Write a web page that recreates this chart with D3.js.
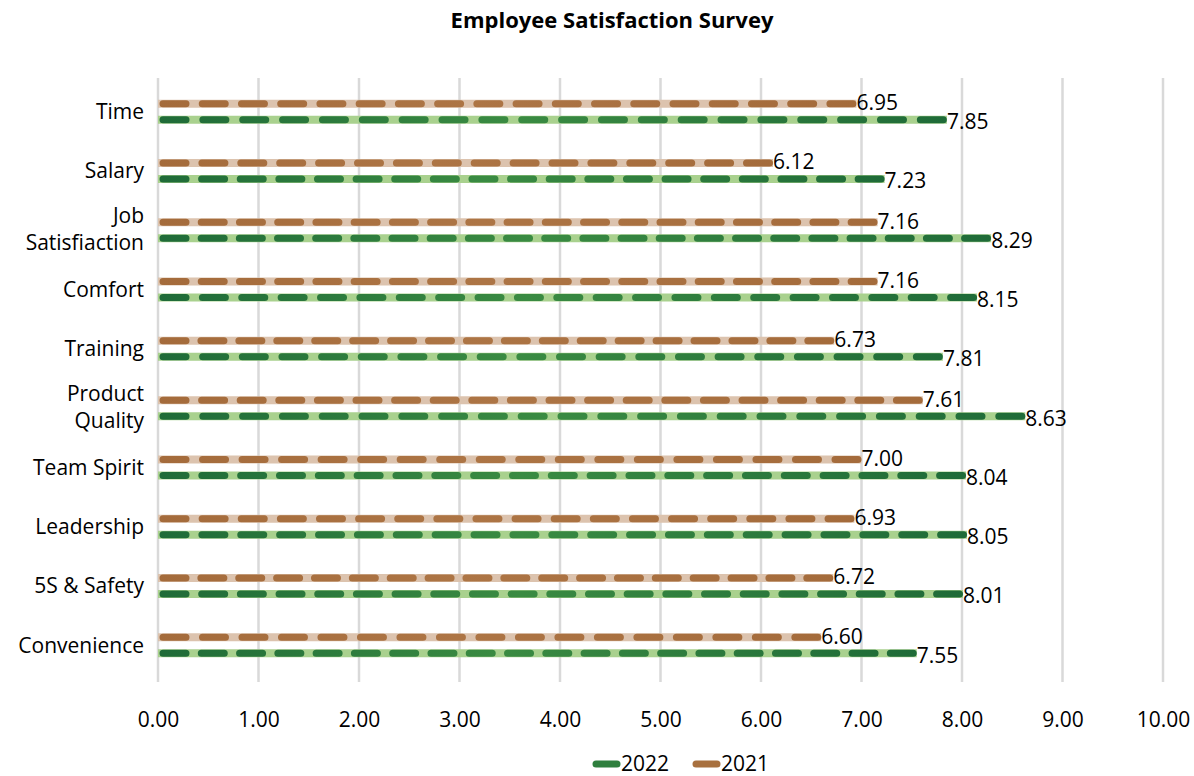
<!DOCTYPE html>
<html>
<head>
<meta charset="utf-8">
<script src="https://cdn.jsdelivr.net/npm/d3@7"></script>
<style>
	body { margin: 0; background: #ffffff; }
	svg text { font-family: 'Open Sans', 'Noto Sans', sans-serif; fill: #000; }
</style>
</head>
<body>
<div id="chart"></div>
<script>
// Survey categories top to bottom, and scores per year
const categories = ['Time', 'Salary', 'Job Satisfiaction', 'Comfort', 'Training',
	'Product Quality', 'Team Spirit', 'Leadership', '5S & Safety', 'Convenience'];
const scores2021 = [6.95, 6.12, 7.16, 7.16, 6.73, 7.61, 7.00, 6.93, 6.72, 6.60];
const scores2022 = [7.85, 7.23, 8.29, 8.15, 7.81, 8.63, 8.04, 8.05, 8.01, 7.55];
const xTicks = [0, 1, 2, 3, 4, 5, 6, 7, 8, 9, 10];
const seriesNames = ['2021', '2022'];

const width = 1194;
const height = 776;
const margin = { top: 82, right: 31, bottom: 101, left: 158 };
const fontSize = '21px';

const svg = d3.select('#chart')
	.append('svg')
	.attr('width', width)
	.attr('height', height);

const x = d3.scaleLinear()
	.domain([0, 10])
	.range([margin.left, width - margin.right]);

const y = d3.scaleBand()
	.domain(categories)
	.range([margin.top, height - margin.bottom]);

// offset of each series inside a category band
const ySeries = d3.scalePoint()
	.domain(seriesNames)
	.range([-8, 8]);

// Title
svg.append('text')
	.attr('x', 612)
	.attr('y', 28)
	.attr('text-anchor', 'middle')
	.style('font-size', '22px')
	.style('font-weight', 'bold')
	.text('Employee Satisfaction Survey');

// Gridlines
svg.append('g')
	.selectAll('line')
	.data(xTicks)
	.join('line')
	.attr('x1', (d) => x(d))
	.attr('x2', (d) => x(d))
	.attr('y1', 78)
	.attr('y2', 682)
	.attr('stroke', '#d9d9d9')
	.attr('stroke-width', 2.5);

// X axis tick labels
const xAxis = svg.append('g')
	.attr('transform', `translate(0, ${height - margin.bottom + 37})`)
	.call(d3.axisBottom(x).tickValues(xTicks).tickFormat(d3.format('.2f')).tickSize(0));
xAxis.select('.domain').remove();
xAxis.selectAll('text')
	.style('font-size', fontSize)
	.attr('dy', '0.71em')
	.attr('y', 0);

// Category labels (wrap two word labels that are long)
const catLabels = svg.append('g')
	.selectAll('text')
	.data(categories)
	.join('text')
	.attr('x', margin.left - 14)
	.attr('y', (d) => y(d) + y.bandwidth() / 2)
	.attr('text-anchor', 'end')
	.style('font-size', fontSize);

catLabels.each(function (d) {
	const el = d3.select(this);
	const words = d.split(' ');
	if (d.length > 12 && words.length === 2) {
		el.append('tspan').attr('x', margin.left - 14).attr('dy', '-0.36em').text(words[0]);
		el.append('tspan').attr('x', margin.left - 14).attr('dy', '1.3em').text(words[1]);
	} else {
		el.append('tspan').attr('dy', '0.35em').text(d);
	}
});

const defs = svg.append('defs');

const seriesStyle = {
	'2021': { values: scores2021, light: '#dcc3ae', dark: ['#a46b3b', '#ad7545', '#a46b3b'] },
	'2022': { values: scores2022, light: '#a9d18e', dark: ['#1f6b38', '#3a8b42', '#1f6b38'] },
};

// fit a whole number of dashes between start and end of a bar
function dashFor(len) {
	const dash = 23;
	const n = Math.max(1, Math.round((len + 16) / 39));
	const gap = n > 1 ? (len - n * dash) / (n - 1) : 0;
	return `${dash} ${gap.toFixed(2)}`;
}

seriesNames.forEach((name) => {
	const st = seriesStyle[name];
	const data = categories.map((c, i) => ({ cat: c, value: st.values[i], idx: i }));

	// per bar gradient for the dashed stroke
	data.forEach((d) => {
		const g = defs.append('linearGradient')
			.attr('id', `grad-${name}-${d.idx}`)
			.attr('gradientUnits', 'userSpaceOnUse')
			.attr('x1', x(0))
			.attr('x2', x(d.value))
			.attr('y1', 0)
			.attr('y2', 0);
		g.append('stop').attr('offset', '0%').attr('stop-color', st.dark[0]);
		g.append('stop').attr('offset', '45%').attr('stop-color', st.dark[1]);
		g.append('stop').attr('offset', '100%').attr('stop-color', st.dark[2]);
	});

	const group = svg.append('g');
	const yPos = (d) => y(d.cat) + y.bandwidth() / 2 + ySeries(name);

	// light background line
	group.selectAll('line.bg')
		.data(data)
		.join('line')
		.attr('class', 'bg')
		.attr('x1', x(0))
		.attr('x2', (d) => x(d.value))
		.attr('y1', yPos)
		.attr('y2', yPos)
		.attr('stroke', st.light)
		.attr('stroke-width', 8);

	// dashed line on top
	group.selectAll('line.fg')
		.data(data)
		.join('line')
		.attr('class', 'fg')
		.attr('x1', x(0) + 5)
		.attr('x2', (d) => x(d.value) - 3.5)
		.attr('y1', yPos)
		.attr('y2', yPos)
		.attr('stroke', (d) => `url(#grad-${name}-${d.idx})`)
		.attr('stroke-width', 7)
		.attr('stroke-linecap', 'round')
		.attr('stroke-dasharray', (d) => dashFor(x(d.value) - 3.5 - (x(0) + 5)));

	// value labels
	group.selectAll('text')
		.data(data)
		.join('text')
		.attr('x', (d) => x(d.value))
		.attr('y', (d) => yPos(d) + (name === '2022' ? 2 : -1))
		.attr('dy', '0.35em')
		.style('font-size', fontSize)
		.text((d) => d.value.toFixed(2));
});

// Legend
const legend = svg.append('g').attr('transform', `translate(0, ${height - 5})`);
const legendItems = [
	{ name: '2022', color: '#2f7f3e', x: 592 },
	{ name: '2021', color: '#a8703f', x: 692 },
];
legendItems.forEach((d) => {
	legend.append('line')
		.attr('x1', d.x + 4)
		.attr('x2', d.x + 25)
		.attr('y1', -7)
		.attr('y2', -7)
		.attr('stroke', d.color)
		.attr('stroke-width', 7)
		.attr('stroke-linecap', 'round');
	legend.append('text')
		.attr('x', d.x + 29)
		.attr('y', 0)
		.style('font-size', fontSize)
		.text(d.name);
});
</script>
</body>
</html>
